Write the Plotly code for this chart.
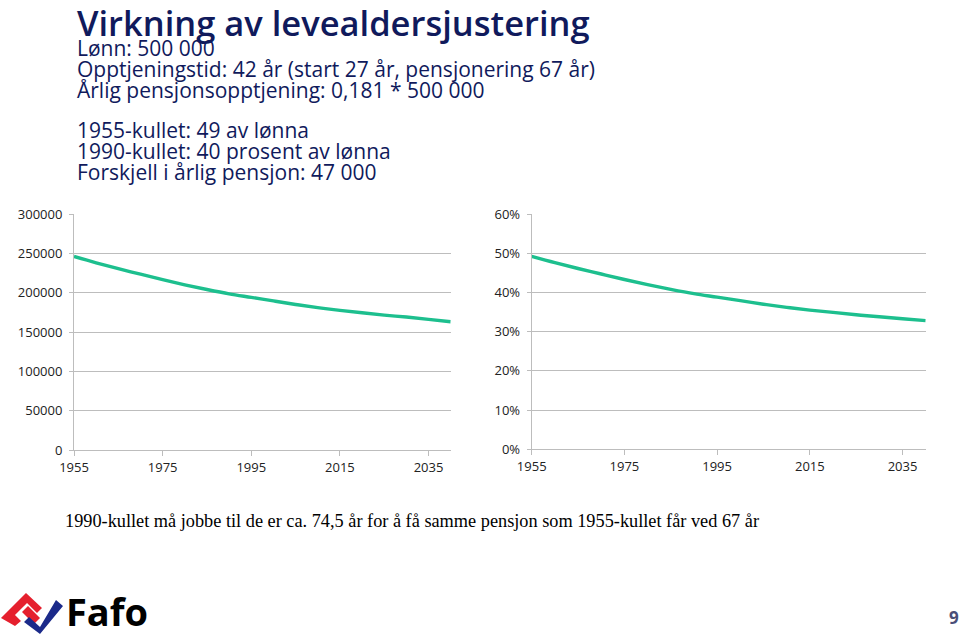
import plotly.graph_objects as go

W, H = 960, 639

# ---- data ----
years = [1955, 1960, 1965, 1970, 1975, 1980, 1985, 1990, 1995,
         2000, 2005, 2010, 2015, 2020, 2025, 2030, 2035, 2040]
pension_kr = [246000, 238000, 230500, 223500, 216500, 210000, 204000, 198500, 194000,
              189500, 185000, 181000, 177500, 174500, 171500, 169000, 166000, 163000]
pension_share = [0.492, 0.476, 0.461, 0.447, 0.433, 0.420, 0.408, 0.397, 0.388,
                 0.379, 0.370, 0.362, 0.355, 0.349, 0.343, 0.338, 0.333, 0.328]
x_ticks = [1955, 1975, 1995, 2015, 2035]
left_yticks = [0, 50000, 100000, 150000, 200000, 250000, 300000]
right_yticks = [0, 0.1, 0.2, 0.3, 0.4, 0.5, 0.6]

title = "Virkning av levealdersjustering"
sub_lines = ["Lønn: 500 000",
             "Opptjeningstid: 42 år (start 27 år, pensjonering 67 år)",
             "Årlig pensjonsopptjening: 0,181 * 500 000",
             "1955-kullet: 49 av lønna",
             "1990-kullet: 40 prosent av lønna",
             "Forskjell i årlig pensjon: 47 000"]
footnote = "1990-kullet må jobbe til de er ca. 74,5 år for å få samme pensjon som 1955-kullet får ved 67 år"

LINE = "#1dbf8e"
NAVY = "#101a5c"
GRID = "#bdbdbd"


def px(x):
    return x / W


def py(y):
    return 1 - y / H


fig = go.Figure()
fig.add_trace(go.Scatter(x=years, y=pension_kr, mode="lines", line=dict(color=LINE, width=3.4, shape="spline"),
                         xaxis="x", yaxis="y", showlegend=False, hoverinfo="x+y"))
fig.add_trace(go.Scatter(x=years, y=pension_share, mode="lines", line=dict(color=LINE, width=3.4, shape="spline"),
                         xaxis="x2", yaxis="y2", showlegend=False, hoverinfo="x+y"))

tickfont = dict(family="Open Sans, sans-serif", size=13, color="#222222")
xcommon = dict(range=[1955, 2040], tickvals=x_ticks, ticks="outside", ticklen=5, tickcolor=GRID,
               showline=True, linecolor=GRID, linewidth=1, showgrid=False, zeroline=False,
               tickfont=tickfont, fixedrange=True, automargin=False)
ycommon = dict(ticks="outside", ticklen=4, tickcolor=GRID, showline=True, linecolor=GRID, linewidth=1,
               showgrid=True, gridcolor=GRID, gridwidth=1, zeroline=False, tickfont=tickfont, fixedrange=True,
               automargin=False, ticklabelstandoff=4)

fig.update_layout(
    width=W, height=H, margin=dict(l=0, r=0, t=0, b=0, autoexpand=False),
    paper_bgcolor="white", plot_bgcolor="white",
    xaxis=dict(domain=[px(74), px(450.7)], anchor="y", **xcommon),
    yaxis=dict(domain=[py(450), py(214)], anchor="x", range=[0, 300000], tickvals=left_yticks,
               tickformat="d", **ycommon),
    xaxis2=dict(domain=[px(531.7), px(925.7)], anchor="y2", **xcommon),
    yaxis2=dict(domain=[py(449.3), py(214)], anchor="x2", range=[0, 0.6], tickvals=right_yticks,
                tickformat=".0%", **ycommon),
)

ann = []
ann.append(dict(text=title, x=px(75), y=py(22.5), xref="paper", yref="paper", xanchor="left", yanchor="middle",
                showarrow=False, font=dict(family="Open Sans, sans-serif", size=34.5, color=NAVY, weight=600)))
sub_y = [48.5, 69, 89.5, 130.5, 151, 171.5]
for t, yy in zip(sub_lines, sub_y):
    ann.append(dict(text=t, x=px(75), y=py(yy), xref="paper", yref="paper", xanchor="left", yanchor="middle",
                    showarrow=False, font=dict(family="Open Sans, sans-serif", size=21, color=NAVY, weight=500)))
ann.append(dict(text=footnote, x=px(63), y=py(521), xref="paper", yref="paper", xanchor="left", yanchor="middle",
                showarrow=False, font=dict(family="Liberation Serif, Times New Roman, serif", size=18.3, color="black")))
ann.append(dict(text="<b>Fafo</b>", x=px(64), y=py(611), xref="paper", yref="paper", xanchor="left", yanchor="middle",
                showarrow=False, font=dict(family="Open Sans, sans-serif", size=38, color="black")))
ann.append(dict(text="<b>9</b>", x=px(954), y=py(617), xref="paper", yref="paper", xanchor="center", yanchor="middle",
                showarrow=False, font=dict(family="Open Sans, sans-serif", size=17, color="#4a4f78")))
fig.update_layout(annotations=ann)


def path(points):
    s = "M " + " L ".join(f"{px(a):.5f},{py(b):.5f}" for a, b in points) + " Z"
    return s


red = [(1, 618), (26, 593), (42, 608), (37, 613), (27, 603), (15, 615), (21, 621), (15, 626)]
red2 = [(22, 612), (28, 606), (40, 618), (34, 624)]
blue = [(24, 622), (29, 617), (40, 627), (56, 600), (63, 606), (40, 634)]
shapes = [
    dict(type="path", path=path(red), xref="paper", yref="paper", fillcolor="#e5202e", line=dict(width=0)),
    dict(type="path", path=path(red2), xref="paper", yref="paper", fillcolor="#e5202e", line=dict(width=0)),
    dict(type="path", path=path(blue), xref="paper", yref="paper", fillcolor="#1b2a8a", line=dict(width=0)),
]
fig.update_layout(shapes=shapes)

fig.write_html("out.html", config={"displayModeBar": False},
               post_script="document.body.style.margin='0';document.body.style.overflow='hidden';")
